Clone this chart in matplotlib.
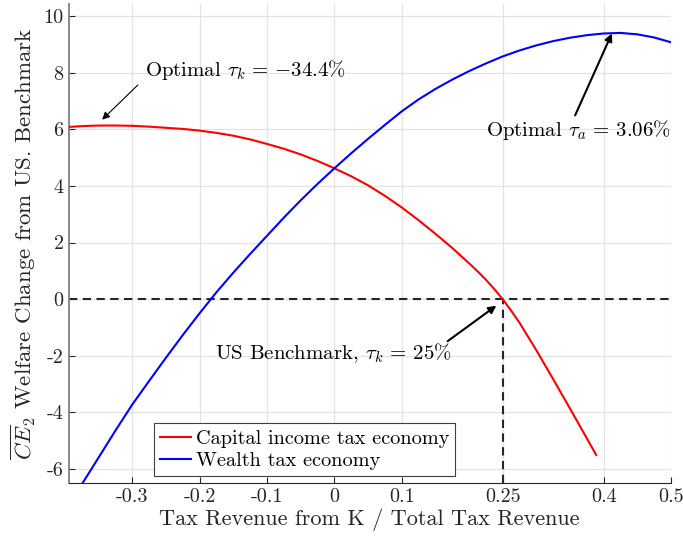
import numpy as np
import matplotlib
matplotlib.use("Agg")
import matplotlib.pyplot as plt

plt.rcParams['font.family'] = 'serif'
plt.rcParams['font.serif'] = ['cmr10']
plt.rcParams['mathtext.fontset'] = 'cm'
plt.rcParams['axes.unicode_minus'] = False

# Capital income tax economy
x_cap = [-0.395, -0.375, -0.35, -0.325, -0.30, -0.275, -0.25, -0.225, -0.20,
         -0.175, -0.15, -0.125, -0.10, -0.075, -0.05, -0.025, 0.0,
         0.025, 0.05, 0.075, 0.10, 0.125, 0.15, 0.175, 0.20, 0.2125, 0.225,
         0.2375, 0.25, 0.2625, 0.275, 0.30, 0.325, 0.35, 0.375, 0.389]
y_cap = [6.08, 6.11, 6.13, 6.13, 6.12, 6.09, 6.05, 6.01, 5.95,
         5.87, 5.77, 5.64, 5.48, 5.31, 5.11, 4.88, 4.62,
         4.34, 4.02, 3.65, 3.24, 2.79, 2.31, 1.81, 1.27, 0.99, 0.69,
         0.36, 0.0, -0.40, -0.83, -1.80, -2.82, -3.86, -4.91, -5.50]

# Wealth tax economy
x_wealth = [-0.374, -0.35, -0.325, -0.30, -0.275, -0.25, -0.225, -0.20,
            -0.175, -0.15, -0.125, -0.10, -0.075, -0.05, -0.025, 0.0,
            0.025, 0.05, 0.075, 0.10, 0.125, 0.15, 0.175, 0.20, 0.225,
            0.25, 0.275, 0.30, 0.325, 0.35, 0.375, 0.40, 0.425, 0.45,
            0.475, 0.50]
y_wealth = [-6.49, -5.58, -4.63, -3.71, -2.88, -2.06, -1.26, -0.49,
            0.25, 0.94, 1.60, 2.24, 2.88, 3.49, 4.07, 4.62,
            5.15, 5.66, 6.15, 6.63, 7.05, 7.42, 7.75, 8.05, 8.32,
            8.57, 8.78, 8.96, 9.11, 9.23, 9.32, 9.38, 9.40, 9.35,
            9.24, 9.07]

xticks = [-0.3, -0.2, -0.1, 0, 0.1, 0.25, 0.4, 0.5]
xticklabels = ['-0.3', '-0.2', '-0.1', '0', '0.1', '0.25', '0.4', '0.5']
yticks = [-6, -4, -2, 0, 2, 4, 6, 8, 10]
yticklabels = ['-6', '-4', '-2', '0', '2', '4', '6', '8', '10']

benchmark = 0.25

fig = plt.figure(figsize=(6.83, 5.44), dpi=100)
ax = fig.add_axes([0.1003, 0.1116, 0.882, 0.881])

ax.plot(x_cap, y_cap, color='red', lw=1.5, label='Capital income tax economy', zorder=3)
ax.plot(x_wealth, y_wealth, color='blue', lw=1.5, label='Wealth tax economy', zorder=3)

dash = (0, (4, 2.6))
ax.axhline(0, color='#262626', lw=1.5, linestyle=dash, zorder=2)
ax.plot([benchmark, benchmark], [-6.5, 0], color='#262626', lw=1.5, linestyle=dash, zorder=2)

ax.set_xlim(-0.395, 0.5)
ax.set_ylim(-6.5, 10.42)
ax.set_xticks(xticks)
ax.set_xticklabels(xticklabels)
ax.set_yticks(yticks)
ax.set_yticklabels(yticklabels)
ax.tick_params(direction='in', length=4, labelsize=14.5, colors='#262626', top=False, right=False)
ax.grid(True, color='#e3e3e3', lw=0.9)
ax.set_axisbelow(True)

for s in ['top', 'right']:
    ax.spines[s].set_visible(False)
ax.spines['left'].set_color('#808080')
ax.spines['left'].set_linewidth(1.3)
ax.spines['bottom'].set_color('#262626')

ax.set_xlabel('Tax Revenue from K / Total Tax Revenue', fontsize=16, color='#262626', labelpad=2)
ax.set_ylabel(r'$\overline{CE}_2$ Welfare Change from US. Benchmark', fontsize=16.5, color='#262626')

# annotations
ax.text(-0.281, 8.1, r'Optimal $\tau_k\,=\,{-34.4\%}$', fontsize=15, va='center', ha='left')
ax.annotate('', xy=(-0.348, 6.27), xytext=(-0.289, 7.63),
            arrowprops=dict(arrowstyle='-|>', color='black', lw=0.8, mutation_scale=11))

ax.text(0.2247, 5.98, r'Optimal $\tau_a\,=\,3.06\%$', fontsize=15, va='center', ha='left')
ax.annotate('', xy=(0.414, 9.47), xytext=(0.356, 6.40),
            arrowprops=dict(arrowstyle='-|>', color='black', lw=1.5, mutation_scale=11))

ax.text(-0.178, -1.9, r'US Benchmark, $\tau_k\,=\,25\%$', fontsize=15, va='center', ha='left')
ax.annotate('', xy=(0.244, -0.17), xytext=(0.165, -1.54),
            arrowprops=dict(arrowstyle='-|>', color='black', lw=1.5, mutation_scale=11))

leg = ax.legend(loc='lower left', bbox_to_anchor=(0.142, 0.015), fontsize=14.6,
                fancybox=False, framealpha=1, edgecolor='#404040',
                handlelength=1.5, borderpad=0.3, labelspacing=0.2,
                handletextpad=0.25, borderaxespad=0)
leg.get_frame().set_linewidth(0.8)

fig.savefig('out.png', dpi=100)
